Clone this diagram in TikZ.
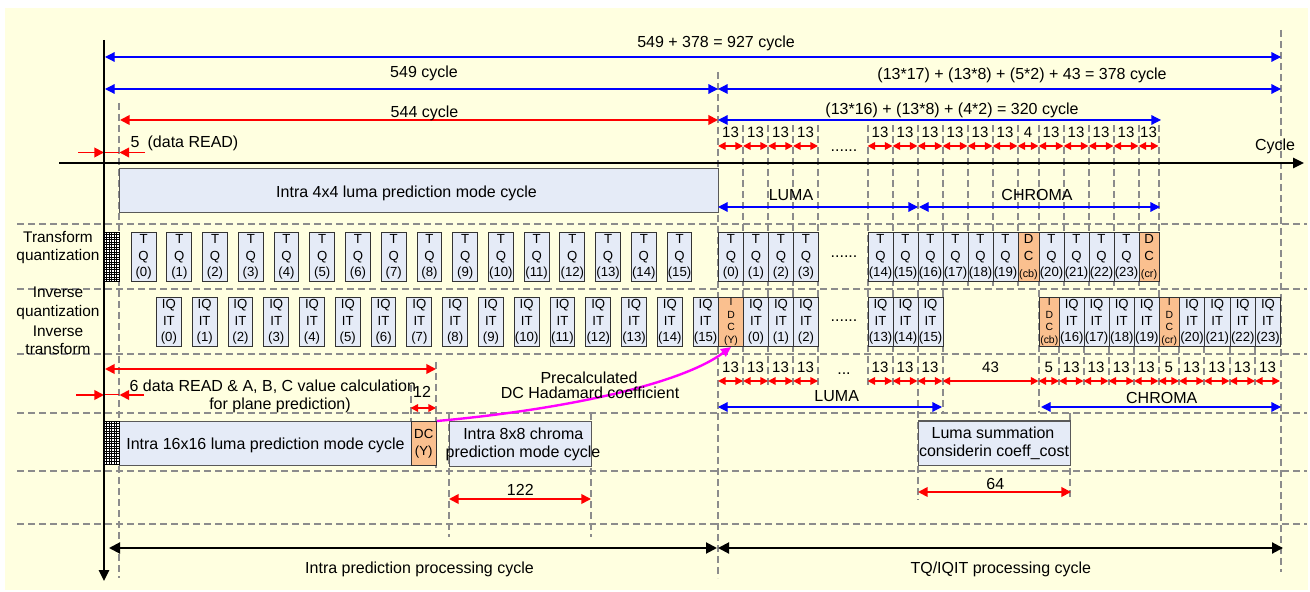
\documentclass[tikz,border=0pt]{standalone}
\usepackage{fontspec}
\setmainfont{Liberation Sans}
\usetikzlibrary{arrows.meta}
\definecolor{bgc}{RGB}{255,255,224}
\definecolor{boxc}{RGB}{229,235,247}
\definecolor{dcc}{RGB}{250,192,143}
\definecolor{gridc}{RGB}{140,140,140}
\definecolor{bluec}{RGB}{0,0,255}
\definecolor{redc}{RGB}{255,0,0}
\definecolor{magc}{RGB}{255,0,255}
\tikzset{
 gl/.style={draw=gridc, line width=1pt, dash pattern=on 3.5pt off 2pt},
 lbl/.style={inner sep=0pt, anchor=base, font=\fontsize{8}{9.6}\selectfont},
 lbls/.style={inner sep=0pt, anchor=base, font=\fontsize{7.7}{9.3}\selectfont},
 sml/.style={inner sep=0pt, anchor=base, font=\fontsize{7.5}{9}\selectfont},
 bluearr/.style={draw=bluec, line width=0.6pt, {Triangle[length=4.8pt,width=4.8pt]}-{Triangle[length=4.8pt,width=4.8pt]}},
 redarr/.style={draw=redc, line width=0.9pt, {Triangle[length=4.8pt,width=4.8pt]}-{Triangle[length=4.8pt,width=4.8pt]}},
 segarr/.style={draw=redc, line width=0.8pt, {Triangle[length=3.8pt,width=3.8pt]}-{Triangle[length=3.8pt,width=3.8pt]}},
 onearr/.style={draw=redc, line width=0.9pt, -{Triangle[length=4.8pt,width=4.8pt]}},
 blackarr/.style={draw=black, line width=1pt, {Triangle[length=5.5pt,width=5.5pt]}-{Triangle[length=5.5pt,width=5.5pt]}},
 cellbox/.style={draw=black!80, fill=boxc, line width=0.5pt, inner sep=0pt, align=center, font=\fontsize{6.6}{8.3}\selectfont},
 dcbox/.style={cellbox, fill=dcc},
 idcbox/.style={cellbox, fill=dcc, font=\fontsize{5.2}{6.3}\selectfont},
 bigbox/.style={draw=black!65, fill=boxc, line width=0.6pt, inner sep=0pt},
 hatchbox/.style={draw=black, fill=white, line width=0.4pt, inner sep=0pt},
}
\newcommand\cellnode[7]{\node[#1, anchor=north west, minimum width={(#5-#3)*0.5pt}, minimum height={(#6-#4)*0.5pt}] (#2) at (#3,#4) {#7};}
\begin{document}
\begin{tikzpicture}[x=0.5pt,y=-0.5pt]
\useasboundingbox (0,0) rectangle (1310,592);
\fill[white] (0,0) rectangle (1310,592);
\fill[bgc] (5,8) rectangle (1308,590);
% horizontal grid
\foreach \y in {224,289,354,413,471,524} \draw[gl] (17,\y) -- (1307,\y);
% vertical grid
\draw[gl] (119,103) -- (119,578);
\draw[gl] (718,72) -- (718,578);
\draw[gl] (1281,30) -- (1281,572);
\foreach \x in {967.5,992.5,1017.5,1063.5,1088.5,1113.5,1138.5} \draw[gl] (\x,125) -- (\x,289);
\foreach \x in {743,768,793,818,867.5,892.5,1158.5} \draw[gl] (\x,125) -- (\x,385);
\draw[gl] (917.5,125) -- (917.5,500);
\draw[gl] (942.5,125) -- (942.5,413);
\draw[gl] (1038.5,125) -- (1038.5,413);
\foreach \x in {1059,1083.5,1108.5,1134,1179,1204,1229.5,1255} \draw[gl] (\x,346) -- (\x,385);
\draw[gl] (1070,413) -- (1070,500);
\draw[gl] (449,413) -- (449,537);
\draw[gl] (591,413) -- (591,537);
\draw[gl] (410.5,385) -- (410.5,465);
\draw[gl] (436,362) -- (436,470);
% big boxes
\cellnode{bigbox}{intra4}{119}{168}{718}{212}{}
\cellnode{bigbox}{intra16}{119}{421}{410.5}{465}{}
\cellnode{dcbox}{dcY}{410.5}{421}{436}{465}{DC\\(Y)}
\cellnode{bigbox}{intra8}{449}{421}{591}{465.5}{}
\cellnode{bigbox}{lumasum}{918}{420.5}{1069.5}{465}{}
% hatched blocks
\cellnode{hatchbox}{hatchA}{104}{232}{119}{281}{}
\foreach \i in {1,...,5} \draw[line width=0.35pt] ({104+2.5*\i},232) -- ({104+2.5*\i},281);
\foreach \i in {1,...,19} \draw[line width=0.35pt] (104,{232+2.5*\i}) -- (119,{232+2.5*\i});
\cellnode{hatchbox}{hatchB}{104}{421}{119}{464}{}
\foreach \i in {1,...,5} \draw[line width=0.35pt] ({104+2.5*\i},421) -- ({104+2.5*\i},464);
\foreach \i in {1,...,16} \draw[line width=0.35pt] (104,{421+2.5*\i}) -- (119,{421+2.5*\i});
% left TQ / IQIT boxes
\foreach \k in {0,...,15}{
  \pgfmathsetmacro\xa{130.7+35.73*\k}\pgfmathsetmacro\xb{\xa+24.8}
  \cellnode{cellbox}{tqa\k}{\xa}{232}{\xb}{281}{T\\Q\\(\k)}
  \pgfmathsetmacro\xc{156+35.78*\k}\pgfmathsetmacro\xd{\xc+24.8}
  \cellnode{cellbox}{iqa\k}{\xc}{297}{\xd}{346}{IQ\\IT\\(\k)}
}
% right TQ boxes
\foreach \k/\xa in {0/718,1/743,2/768,3/793,14/867.5,15/892.5,16/917.5,17/942.5,18/967.5,19/992.5,20/1038.5,21/1063.5,22/1088.5,23/1113.5}{
  \pgfmathsetmacro\xb{\xa+25}
  \cellnode{cellbox}{tqb\k}{\xa}{232}{\xb}{281}{T\\Q\\(\k)}
}
\cellnode{dcbox}{dccb}{1017.5}{232}{1038.5}{281}{D\\C\\{\fontsize{5.4}{8.3}\selectfont(cb)}}
\cellnode{dcbox}{dccr}{1138.5}{232}{1158.5}{281}{D\\C\\{\fontsize{5.4}{8.3}\selectfont(cr)}}
% right IQIT boxes
\cellnode{idcbox}{idcY}{718}{297}{743}{346}{I\\D\\C\\(Y)}
\foreach \k/\xa/\xb in {0/743/768,1/768/793,2/793/818,13/867.5/892.5,14/892.5/917.5,15/917.5/942.5,16/1059/1083.5,17/1083.5/1108.5,18/1108.5/1134,19/1134/1158.5,20/1179/1204,21/1204/1229.5,22/1229.5/1255,23/1255/1280}{
  \cellnode{cellbox}{iqb\k}{\xa}{297}{\xb}{346}{IQ\\IT\\(\k)}
}
\cellnode{idcbox}{idccb}{1038.5}{297}{1059}{346}{I\\D\\C\\(cb)}
\cellnode{idcbox}{idccr}{1158.5}{297}{1179}{346}{I\\D\\C\\(cr)}
% top dimension arrows
\draw[bluearr] (105,57) -- (1281,57);
\draw[bluearr] (105,89) -- (718,89);
\draw[bluearr] (718,89) -- (1281,89);
\draw[redarr] (120,120) -- (718,120);
\draw[bluearr] (718,120) -- (1161,120);
\draw[onearr] (78,152.5) -- (104,152.5);
\draw[redc, line width=0.5pt] (104,152.5) -- (119,152.5);
\draw[onearr] (145,152.5) -- (119.5,152.5);
\foreach \a/\b/\t [count=\i] in {718/743/13,743/768/13,768/793/13,793/818/13,867.5/892.5/13,892.5/917.5/13,917.5/942.5/13,942.5/967.5/13,967.5/992.5/13,992.5/1017.5/13,1017.5/1038.5/4,1038.5/1063.5/13,1063.5/1088.5/13,1088.5/1113.5/13,1113.5/1138.5/13,1138.5/1158.5/13}{
  \draw[segarr] (\a,146) -- (\b,146);
  \node[sml] (sa\i) at ({(\a+\b)/2},138) {\t};
}
\draw[bluearr] (718,207) -- (918,207);
\draw[bluearr] (919,207) -- (1160,207);
% lower dimension arrows
\foreach \a/\b/\t [count=\i] in {718/743/13,743/768/13,768/793/13,793/818/13,867.5/892.5/13,892.5/917.5/13,917.5/942.5/13,942.5/1038.5/43,1038.5/1059/5,1059/1083.5/13,1083.5/1108.5/13,1108.5/1134/13,1134/1158.5/13,1158.5/1179/5,1179/1204/13,1204/1229.5/13,1229.5/1255/13,1255/1280/13}{
  \draw[segarr] (\a,381) -- (\b,381);
  \node[sml] (sb\i) at ({(\a+\b)/2},372.7) {\t};
}
\draw[bluearr] (718,407) -- (942,407);
\draw[bluearr] (1041,407) -- (1281,407);
\draw[redarr] (105,369) -- (436,369);
\draw[onearr] (76,395) -- (104,395);
\draw[redc, line width=0.5pt] (104,395) -- (119,395);
\draw[onearr] (144,395) -- (119.5,395);
\draw[segarr] (410.5,408) -- (436,408);
\draw[redarr] (449,499) -- (591,499);
\draw[redarr] (918,492) -- (1071,492);
\draw[blackarr] (109,548) -- (717,548);
\draw[blackarr] (718,548) -- (1283,548);
% magenta curve
\draw[magc, line width=1.2pt, -{Triangle[length=5pt,width=4.5pt]}] (dcY.north east) .. controls (560,410) and (680,385) .. (idcY.south);
% texts
\node[lbl] (tTot) at (716,48) {549 + 378 = 927 cycle};
\node[lbl] (t549) at (424,78) {549 cycle};
\node[lbl] (t378) at (1022,80) {(13*17) + (13*8) + (5*2) + 43 = 378 cycle};
\node[lbl] (t544) at (424.5,118) {544 cycle};
\node[lbl] (t320) at (952,115) {(13*16) + (13*8) + (4*2) = 320 cycle};
\node[lbl] (t5) at (135,148) {5};
\node[lbl] (tread) at (193,148) {(data READ)};
\node[lbl] (tcyc) at (1275,150.5) {Cycle};
\node[lbl] (tintra4) at (406.5,198) {Intra 4x4 luma prediction mode cycle};
\node[lbl] (tluma1) at (791,201) {LUMA};
\node[lbl] (tchroma1) at (1037,201) {CHROMA};
\node[lbls] (tTr1) at (58,243) {Transform};
\node[lbls] (tTr2) at (58,261) {quantization};
\node[lbls] (tIn1) at (58,297.5) {Inverse};
\node[lbls] (tIn2) at (58,317) {quantization};
\node[lbls] (tIn3) at (58,336.5) {Inverse};
\node[lbls] (tIn4) at (58,354.5) {transform};
\node[lbl] (d1) at (844,152) {......};
\node[lbl] (d2) at (844,258) {......};
\node[lbl] (d3) at (844,321.5) {......};
\node[lbl] (d4) at (844,375) {...};
\node[lbl] (t6) at (134,391.5) {6};
\node[lbl] (tdr) at (279.5,391.5) {data READ \& A, B, C value calculation};
\node[lbl] (tfp) at (280,409.5) {for plane prediction)};
\node[lbl] (t12) at (422,397.5) {12};
\node[lbl] (tprec1) at (589,383.3) {Precalculated};
\node[lbl] (tprec2) at (590,399) {DC Hadamard coefficient};
\node[lbl] (t16) at (265.5,450) {Intra 16x16 luma prediction mode cycle};
\node[lbl] (t8a) at (523.3,439) {Intra 8x8 chroma};
\node[lbl] (t8b) at (523,457.3) {prediction mode cycle};
\node[lbl] (t122) at (520.3,495.7) {122};
\node[lbl] (tluma2) at (836.7,401.7) {LUMA};
\node[lbl] (tchroma2) at (1161.7,404) {CHROMA};
\node[lbl] (tls1) at (993,438.3) {Luma summation};
\node[lbl] (tls2) at (994,456.7) {considerin coeff\_cost};
\node[lbl] (t64) at (995.3,489.3) {64};
\node[lbl] (tipc) at (419.5,573.3) {Intra prediction processing cycle};
\node[lbl] (ttq) at (1000.8,573.3) {TQ/IQIT processing cycle};
% axes
\draw[line width=1.25pt, -{Triangle[length=5.5pt,width=5pt]}] (104,40) -- (104,581);
\draw[line width=1.25pt, -{Triangle[length=5.5pt,width=5pt]}] (59,163) -- (1304,163);
\end{tikzpicture}
\end{document}
